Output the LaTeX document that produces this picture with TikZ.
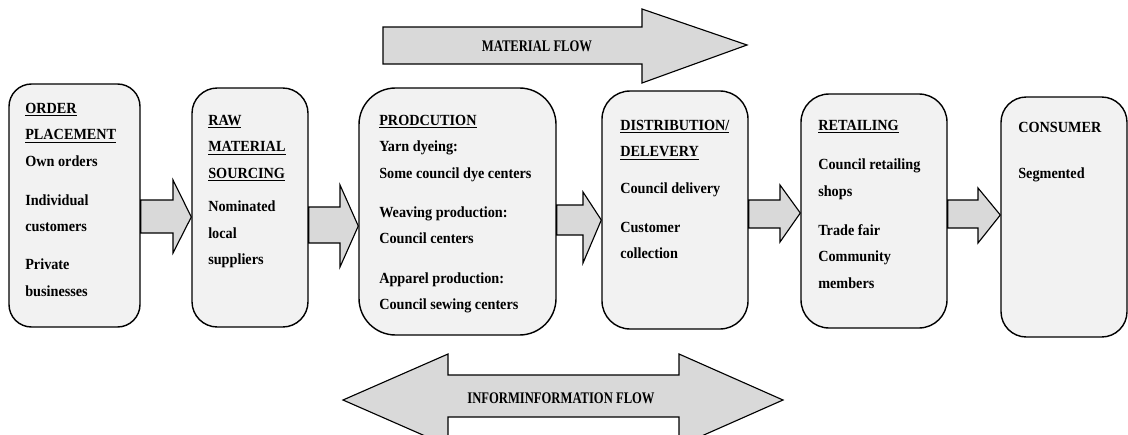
\documentclass[tikz,border=0pt]{standalone}
\usepackage{fontspec}
\setmainfont{Liberation Serif}[FakeStretch=0.92]
\newfontfamily\flowfont{Liberation Serif}[FakeStretch=0.78]
\usepackage{tikz}
\usetikzlibrary{fit}
\usetikzlibrary{positioning}

\tikzset{
    stage/.style={draw, line width=1pt, fill=gray!10, inner sep=0pt},
    stagetext/.style={anchor=north west, inner sep=0pt, align=left,
        font=\fontsize{11pt}{18.8pt}\selectfont\bfseries},
    flowarrow/.style={draw, line width=0.8pt, fill=gray!30, line join=miter},
    flowtext/.style={inner sep=0pt, font=\fontsize{11.5pt}{13pt}\flowfont\bfseries}
}

\begin{document}
\begin{tikzpicture}[x=0.025cm, y=-0.025cm]
        \useasboundingbox (0,0) rectangle (1128,434);

        % stages of the chain
        \node[stage, rounded corners=16pt, fit={(9,84) (140,327)}] (order) {};
        \node[stage, rounded corners=18pt, fit={(192,88) (308,327)}] (raw) {};
        \node[stage, rounded corners=26pt, fit={(359,88) (556,335)}] (prod) {};
        \node[stage, rounded corners=20pt, fit={(602,91) (748,329)}] (dist) {};
        \node[stage, rounded corners=20pt, fit={(801,94) (947,328)}] (retail) {};
        \node[stage, rounded corners=18pt, fit={(1001,97) (1127,337)}] (consumer) {};

        \node[stagetext] (ordertxt) at (25,103) {\underline{ORDER}\\\underline{PLACEMENT}\\Own orders\\[9pt]Individual\\customers\\[8pt]Private\\businesses};
        \node[stagetext] (rawtxt) at (208,115) {\underline{RAW}\\\underline{MATERIAL}\\\underline{SOURCING}\\[5pt]Nominated\\local\\suppliers};
        \node[stagetext] (prodtxt) at (379,115) {\underline{PRODCUTION}\\Yarn dyeing:\\Some council dye centers\\[9pt]Weaving production:\\Council centers\\[9pt]Apparel production:\\Council sewing centers};
        \node[stagetext] (disttxt) at (620,120) {\underline{DISTRIBUTION/}\\\underline{DELEVERY}\\[7pt]Council delivery\\[9pt]Customer\\collection};
        \node[stagetext] (retailtxt) at (818,120) {\underline{RETAILING}\\[9pt]Council retailing\\shops\\[9pt]Trade fair\\Community\\members};
        \node[stagetext] (consumertxt) at (1018,122) {CONSUMER\\[14pt]Segmented};

        % arrows between stages
        \draw[flowarrow] (order.east |- 0,200) -- (173,200) -- (173,180) -- (raw.west |- 0,217) -- (173,253) -- (173,233) -- (order.east |- 0,233) -- cycle;
        \draw[flowarrow] (raw.east |- 0,207) -- (340,207) -- (340,185) -- (prod.west |- 0,226) -- (340,267) -- (340,243) -- (raw.east |- 0,243) -- cycle;
        \draw[flowarrow] (prod.east |- 0,205) -- (583,205) -- (583,192) -- (dist.west |- 0,220) -- (583,263) -- (583,235) -- (prod.east |- 0,235) -- cycle;
        \draw[flowarrow] (dist.east |- 0,200) -- (780,200) -- (780,185) -- (retail.west |- 0,213) -- (780,242) -- (780,228) -- (dist.east |- 0,228) -- cycle;
        \draw[flowarrow] (retail.east |- 0,200) -- (978,200) -- (978,188) -- (consumer.west |- 0,215) -- (978,243) -- (978,228) -- (retail.east |- 0,228) -- cycle;

        % material and information flow
        \draw[flowarrow] (383,27) -- (642,27) -- (642,9) -- (747,45) -- (642,83) -- (642,64) -- (383,64) -- cycle;
        \node[flowtext] (matflow) at (537,46) {MATERIAL FLOW};
        \draw[flowarrow] (343,400) -- (448,354) -- (448,375) -- (679,375) -- (679,354) -- (783,400) -- (679,446) -- (679,417) -- (448,417) -- (448,446) -- cycle;
        \node[flowtext] (infoflow) at (561,398) {INFORMINFORMATION FLOW};
    \end{tikzpicture}
\end{document}
